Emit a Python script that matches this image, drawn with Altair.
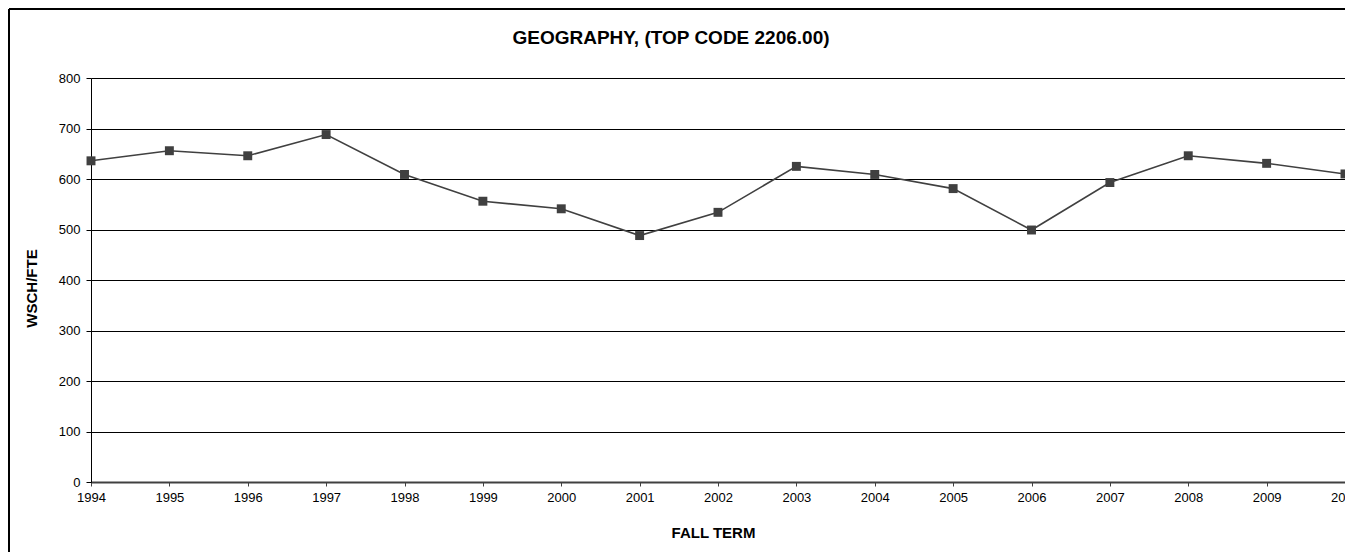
import altair as alt
import pandas as pd

years = list(range(1994, 2011))
wsch_fte = [636, 656, 646, 688, 609, 556, 541, 488, 534, 625, 609, 581, 499, 593, 646, 631, 610]
y_ticks = [0, 100, 200, 300, 400, 500, 600, 700, 800]
chart_title = "GEOGRAPHY, (TOP CODE 2206.00)"

df = pd.DataFrame({"year": years, "value": wsch_fte})
one_df = pd.DataFrame({"k": [0]})

FONT = "Liberation Sans"
W, H = 1254, 404

x_enc = alt.X(
    "year:Q",
    scale=alt.Scale(domain=[1994, 2010], nice=False, zero=False),
    axis=alt.Axis(
        values=years, format="d", title="FALL TERM", grid=False,
        labelFontSize=13, labelFont=FONT, labelColor="black",
        labelFlush=False, labelOverlap=False,
        tickSize=4, tickColor="#404040", labelPadding=5,
        domainColor="#404040", domainWidth=2,
        titleFont=FONT, titleFontSize=15, titleFontWeight="bold", titleColor="black",
        titleX=622, titleY=55, titleAlign="center", titleBaseline="alphabetic",
    ),
)
y_enc = alt.Y(
    "value:Q",
    scale=alt.Scale(domain=[0, 800], nice=False),
    axis=alt.Axis(
        values=y_ticks, title="WSCH/FTE", grid=True, gridColor="black", gridWidth=1,
        gridOpacity=1,
        labelFontSize=13, labelFont=FONT, labelColor="black",
        tickSize=5, tickColor="black", labelPadding=6,
        domainColor="black", domainWidth=1,
        titleFont=FONT, titleFontSize=15, titleFontWeight="bold", titleColor="black",
        titleAngle=270, titleX=-55, titleY=210, titleAlign="center",
        titleBaseline="alphabetic",
    ),
)

line = alt.Chart(df).mark_line(color="#404040", strokeWidth=1.6).encode(x=x_enc, y=y_enc)
points = alt.Chart(df).mark_point(
    shape="square", filled=True, size=80, color="#404040", opacity=1
).encode(x="year:Q", y="value:Q")

frame_left = alt.Chart(one_df).mark_rule(color="black", strokeWidth=2).encode(
    x=alt.value(-82), y=alt.value(-69), y2=alt.value(H + 70),
)
frame_top = alt.Chart(one_df).mark_rule(color="black", strokeWidth=2).encode(
    x=alt.value(-82), x2=alt.value(W + 4), y=alt.value(-69),
)
title_text = alt.Chart(one_df).mark_text(
    font=FONT, fontSize=19, fontWeight="bold", color="black",
    align="center", baseline="alphabetic",
).encode(x=alt.value(580), y=alt.value(-34), text=alt.value(chart_title))

chart = alt.layer(frame_left, frame_top, title_text, line, points).properties(
    width=W, height=H,
    padding={"left": 83, "top": 70, "right": 0, "bottom": 70},
    autosize=alt.AutoSizeParams(type="none"),
).configure_view(stroke="black", strokeWidth=1).configure(background="white")

chart.save("out.html", embed_options={"renderer": "svg", "actions": False})
